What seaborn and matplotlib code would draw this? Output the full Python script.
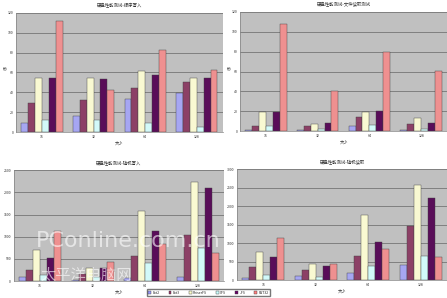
import matplotlib
matplotlib.use("Agg")
import matplotlib.pyplot as plt
import seaborn as sns
import pandas as pd
from matplotlib.patches import Patch

sns.set_theme(style="white")
plt.rcParams['font.family'] = ['Noto Sans CJK SC', 'DejaVu Sans']

categories = ["16", "32", "64", "128"]
series = ["Ext2", "Ext3", "ReiserFS", "XFS", "JFS", "FAT32"]
colors = ["#9999FF", "#993366", "#FFFFCC", "#CCFFFF", "#660066", "#FF8080"]

titles = ["硬盘性能测试-顺序写入", "硬盘性能测试-文件读取测试",
          "硬盘性能测试-随机写入", "硬盘性能测试-随机读取"]
ylabels = ["秒", "秒", "", ""]
xlabel = "大小"

v1 = [[9, 16, 33, 39],
      [29, 32, 44, 50],
      [54, 54, 61, 54],
      [12, 12, 9, 5],
      [54, 53, 57, 54],
      [112, 42, 83, 62]]
v2 = [[1, 1, 5, 1],
      [5, 5, 14, 7],
      [19, 7, 19, 13],
      [5, 2, 6, 2],
      [19, 8, 20, 8],
      [108, 40, 80, 61]]
v3 = [[100, 25, 60, 100],
      [250, 150, 575, 1030],
      [700, 290, 1590, 2240],
      [135, 100, 400, 740],
      [530, 290, 1135, 2100],
      [1135, 425, 835, 630]]
v4 = [[65, 110, 200, 410],
      [365, 275, 655, 1455],
      [750, 435, 1775, 2575],
      [150, 90, 390, 665],
      [620, 380, 1045, 2225],
      [1135, 435, 845, 635]]
ymax = [120, 120, 2500, 3000]
ystep = [20, 20, 500, 500]
all_vals = [v1, v2, v3, v4]

positions = [
    [0.036, 0.557, 0.462, 0.400],
    [0.537, 0.560, 0.463, 0.400],
    [0.031, 0.057, 0.470, 0.372],
    [0.530, 0.060, 0.470, 0.372],
]

fig = plt.figure(figsize=(4.47, 2.98), dpi=100)
fig.patch.set_facecolor("white")

for i in range(4):
    rows = []
    for s, vals in zip(series, all_vals[i]):
        for c, v in zip(categories, vals):
            rows.append({"cat": c, "series": s, "value": v})
    df = pd.DataFrame(rows)
    ax = fig.add_axes(positions[i])
    ax.set_facecolor("#C0C0C0")
    sns.barplot(data=df, x="cat", y="value", hue="series", order=categories,
                hue_order=series, palette=colors, ax=ax, width=0.8,
                edgecolor="#404040", linewidth=0.3, legend=False)
    ax.set_ylim(0, ymax[i])
    ax.set_yticks(range(0, ymax[i] + 1, ystep[i]))
    ax.yaxis.grid(True, color="#666666", linewidth=0.5)
    ax.set_axisbelow(True)
    ax.tick_params(axis="both", labelsize=2.5, length=1, pad=1, colors="#333333")
    ax.set_xlabel(xlabel, fontsize=3, labelpad=2, color="#333333")
    ax.set_ylabel(ylabels[i], fontsize=3, labelpad=2, rotation=0, color="#333333")
    ax.set_title(titles[i], fontsize=3.2, pad=4, color="#333333")
    for sp in ax.spines.values():
        sp.set_color("#808080")
        sp.set_linewidth(0.5)
    ax.spines["top"].set_visible(False)
    ax.spines["right"].set_visible(False)

handles = [Patch(facecolor=c, edgecolor="#404040", linewidth=0.3, label=s)
           for c, s in zip(colors, series)]
fig.legend(handles=handles, loc="lower left", bbox_to_anchor=(0.325, 0.0),
           ncol=6, fontsize=2.5, frameon=True, handlelength=0.8,
           handleheight=0.8, handletextpad=0.4, columnspacing=2.6,
           borderpad=0.4, fancybox=False, edgecolor="#555555")

fig.text(0.08, 0.17, "PConline.com.cn", fontsize=16, color="white", alpha=0.6,
         family="DejaVu Sans")
fig.text(0.09, 0.06, "太平洋电脑网", fontsize=11, color="white", alpha=0.6)

fig.savefig("out.png", dpi=100)
